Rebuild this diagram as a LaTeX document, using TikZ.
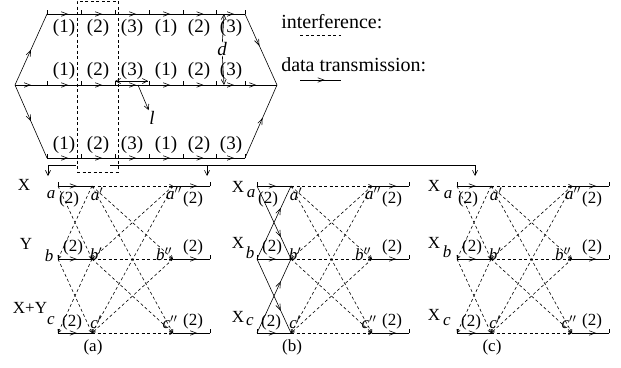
\documentclass[tikz,border=0pt]{standalone}
\usepackage{fontspec}
\setmainfont{Liberation Serif}
\usetikzlibrary{arrows.meta,decorations.markings}

\begin{document}
\begin{tikzpicture}[
    x=1pt, y=-1pt, line width=0.6pt,
    lab/.style={inner sep=0pt, font=\fontsize{19}{21}\selectfont},
    ilab/.style={inner sep=0pt, font=\fontsize{19}{21}\selectfont\itshape},
    glab/.style={inner sep=0pt, font=\fontsize{20}{22}\selectfont},
    slab/.style={inner sep=0pt, font=\fontsize{17}{19}\selectfont},
    islab/.style={inner sep=0pt, font=\fontsize{17}{19}\selectfont\itshape},
    txline/.style={postaction={decorate}, decoration={markings,
        mark=at position #1 with {\arrow{Straight Barb[length=6pt,width=4.5pt]}}}},
    txline/.default=0.6,
    intf/.style={dash pattern=on 3pt off 2.5pt, -{Straight Barb[length=3pt,width=3.5pt]}},
    tickmark/.style={line width=0.5pt},
    sarrow/.style={-{Straight Barb[length=5pt,width=5pt]}}
  ]
    \useasboundingbox (0,0) rectangle (621,367);

    % Routes from source to sink
    \coordinate (src) at (15,85);
    \coordinate (snk) at (277,85);
    \foreach \r/\y in {t/14, m/85, b/158}
      \foreach \i/\x in {0/47, 1/81, 2/115, 3/149, 4/183, 5/216, 6/245}
        \coordinate (\r\i) at (\x,\y);

    \foreach \r in {t,m,b} {
      \foreach \i [count=\j from 1] in {0,...,5}
        \draw[txline=0.62] (\r\i) -- (\r\j);
      \foreach \i in {0,...,6}
        \draw[tickmark] (\r\i) -- ++(0,-4);
    }
    \draw[txline=0.5] (src) -- (t0);
    \draw[txline=0.5] (src) -- (m0);
    \draw[txline=0.5] (src) -- (b0);
    \draw[txline=0.45] (t6) -- (snk);
    \draw[txline=0.35] (m6) -- (snk);
    \draw[txline=0.55] (b6) -- (snk);

    % Slot labels
    \foreach \r/\y in {t/28, m/71, b/145}
      \foreach \n/\x in {1/64, 2/98, 3/132, 1/166, 2/199, 3/231}
        \node[lab] (\r-\x) at (\x,\y) {(\n)};

    % Window of interfering slots
    \node[draw, dash pattern=on 3pt off 2.5pt, minimum width=41pt, minimum height=171pt,
          inner sep=0pt] (win) at (97.5,86.5) {};

    % Distance d and length l
    \coordinate (dtop) at (224,14);
    \coordinate (dbot) at (224,85);
    \node[ilab] (d) at (222,49) {d};
    \draw[sarrow] (d) -- (dtop);
    \draw[sarrow] (d) -- (dbot);

    \coordinate (l1) at (115,81);
    \coordinate (l2) at (148,81);
    \coordinate (l0) at (138,85);
    \draw[sarrow] (l1) -- (l2);
    \draw[sarrow] (l2) -- (l1);
    \node[ilab] (l) at (152,118) {l};
    \draw[sarrow, shorten >=1pt] (l0) -- (l.north west);

    % Pointers to the panels
    \coordinate (br1) at (76,165);
    \coordinate (br0) at (48,165);
    \coordinate (brA) at (48,176);
    \coordinate (br2) at (110,165);
    \coordinate (br3) at (475,165);
    \coordinate (brC) at (475,176);
    \coordinate (brm) at (207,165);
    \coordinate (brB) at (207,176);
    \draw[sarrow] (br1) -- (br0) -- (brA);
    \draw[sarrow] (br2) -- (br3) -- (brC);
    \draw[sarrow] (brm) -- (brB);

    % Legend
    \node[glab, anchor=west] (intlab) at (281,22) {interference:};
    \coordinate (int0) at (300,35);
    \coordinate (int1) at (341,35);
    \draw[dash pattern=on 3pt off 2.5pt] (int0) -- (int1);
    \node[glab, anchor=west] (txlab) at (281,65) {data transmission:};
    \coordinate (tx0) at (300,80);
    \coordinate (tx1) at (341,80);
    \draw[txline=0.6] (tx0) -- (tx1);

    % Panels (a), (b), (c)
    \foreach \ox/\p in {0/a, 199/b, 399/c} {
      \foreach \r/\y in {a/186, b/259, c/333} {
        \coordinate (\p-\r0) at (58+\ox,\y);
        \coordinate (\p-\r1) at (92+\ox,\y);
        \coordinate (\p-\r2) at (173+\ox,\y);
        \coordinate (\p-\r3) at (210+\ox,\y);
        \draw[txline=0.55] (\p-\r0) -- (\p-\r1);
        \draw[intf] (\p-\r1) -- (\p-\r2);
        \draw[txline=0.65] (\p-\r2) -- (\p-\r3);
        \draw[tickmark] (\p-\r0) -- ++(0,-4) (\p-\r3) -- ++(0,-4);
      }
      \draw[intf] (\p-a1) -- (\p-b2);
      \draw[intf] (\p-a1) -- (\p-c2);
      \draw[intf] (\p-a2) -- (\p-b1);
      \draw[intf] (\p-a2) -- (\p-c1);
      \draw[intf] (\p-b1) -- (\p-c2);
      \draw[intf] (\p-b2) -- (\p-c1);

      \node[slab] (\p-n1) at (69+\ox,199) {(2)};
      \node[slab] (\p-n2) at (193+\ox,199) {(2)};
      \node[slab] (\p-n3) at (73+\ox,247) {(2)};
      \node[slab] (\p-n4) at (193+\ox,247) {(2)};
      \node[slab] (\p-n5) at (72+\ox,322) {(2)};
      \node[slab] (\p-n6) at (193+\ox,321) {(2)};
      \node[slab] (\p-pa1) at (97+\ox,194) {\textit{a}$'$};
      \node[slab] (\p-pa2) at (174+\ox,193) {\textit{a}$''$};
      \node[slab] (\p-pb1) at (96+\ox,254) {\textit{b}$'$};
      \node[slab] (\p-pb2) at (164+\ox,254) {\textit{b}$''$};
      \node[slab] (\p-pc1) at (96+\ox,322) {\textit{c}$'$};
      \node[slab] (\p-pc2) at (170+\ox,322) {\textit{c}$''$};
      \node[slab] (\p-cap) at (93+\ox,347) {(\p)};
    }

    % Panel (a): X, Y and X+Y
    \draw[intf] (a-a0) -- (a-b1);
    \draw[intf] (a-a1) -- (a-b0);
    \draw[intf] (a-b0) -- (a-c1);
    \draw[intf] (a-b1) -- (a-c0);
    \node[slab] (a-X) at (24,185) {X};
    \node[islab] (a-sa) at (51,195) {a};
    \node[slab] (a-Y) at (26,244) {Y};
    \node[islab] (a-sb) at (49,256) {b};
    \node[slab] (a-XY) at (30,308) {X+Y};
    \node[islab] (a-sc) at (51,321) {c};

    % Panel (b): transmissions between neighbours
    \draw[txline=0.7] (b-a0) -- (b-b1);
    \draw[txline=0.7] (b-b0) -- (b-a1);
    \draw[txline=0.7] (b-b0) -- (b-c1);
    \draw[txline=0.7] (b-c0) -- (b-b1);
    \node[slab] (b-Xa) at (238,187) {X};
    \node[islab] (b-sa) at (251,194) {a};
    \node[slab] (b-Xb) at (238,243) {X};
    \node[islab] (b-sb) at (250,253) {b};
    \node[slab] (b-Xc) at (238,317) {X};
    \node[islab] (b-sc) at (250,322) {c};

    % Panel (c)
    \draw[intf] (c-a0) -- (c-b1);
    \draw[intf] (c-a1) -- (c-b0);
    \draw[intf] (c-b0) -- (c-c1);
    \draw[intf] (c-b1) -- (c-c0);
    \node[slab] (c-Xa) at (434,186) {X};
    \node[islab] (c-sa) at (448,195) {a};
    \node[slab] (c-Xb) at (434,243) {X};
    \node[islab] (c-sb) at (447,252) {b};
    \node[slab] (c-Xc) at (434,315) {X};
    \node[islab] (c-sc) at (447,322) {c};
\end{tikzpicture}
\end{document}
